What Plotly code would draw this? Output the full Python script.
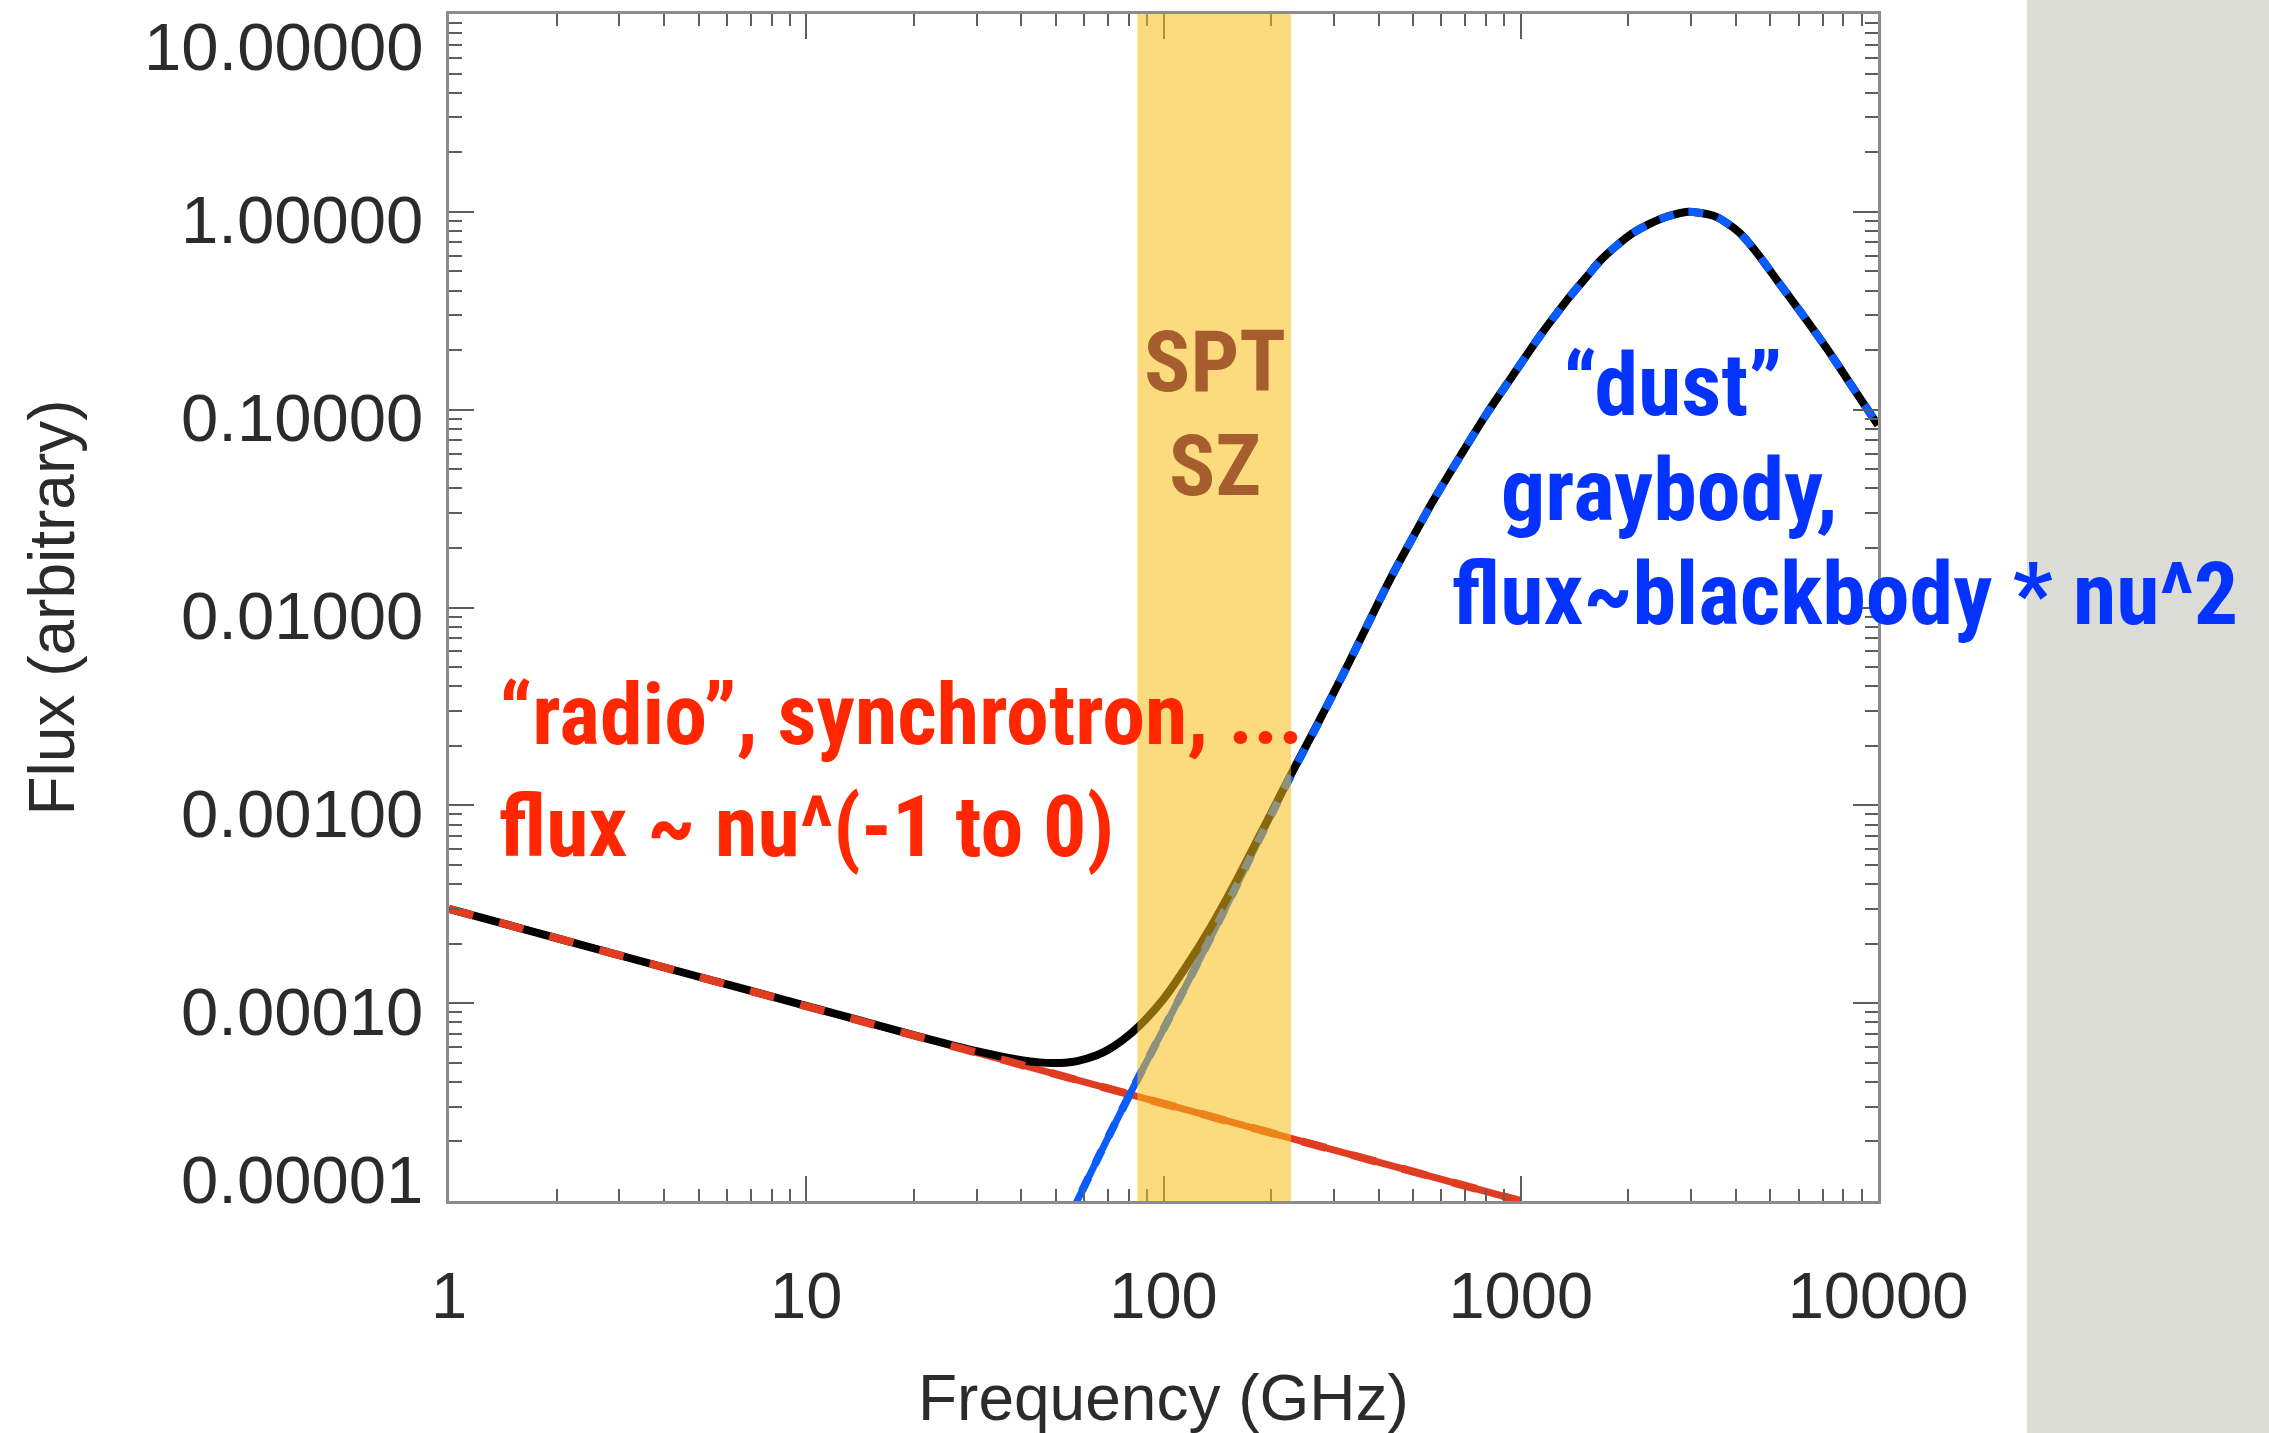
import numpy as np
import plotly.graph_objects as go

# ---- spectral components (frequency in GHz, flux in arbitrary units) ----
sync_freq = [1, 1000]
sync_flux = [3.0e-4, 1.0e-5]

dust_freq = [50, 57.3, 70, 85, 100, 116, 135, 157, 185, 212, 229, 270, 326, 380, 430,
             500, 568, 680, 805, 950, 1132, 1250, 1374, 1520, 1667, 1850, 2062, 2270,
             2500, 2700, 2846, 2950, 3150, 3350, 3541, 3800, 4108, 4584, 5212, 6046,
             7199, 8511, 10000]
dust_flux = [6.0e-6, 1.0e-5, 2.1e-5, 4.2e-5, 7.4e-5, 1.24e-4, 2.12e-4, 3.65e-4, 6.7e-4,
             1.1e-3, 1.45e-3, 2.56e-3, 5.0e-3, 8.8e-3, 1.38e-2, 2.28e-2, 3.45e-2, 5.9e-2,
             0.096, 0.149, 0.236, 0.300, 0.374, 0.464, 0.565, 0.672, 0.782, 0.862,
             0.932, 0.972, 0.993, 1.0, 0.99, 0.97, 0.94, 0.87, 0.78, 0.62, 0.452, 0.315,
             0.203, 0.129, 0.0836]

total_freq = [1, 2, 5, 10, 20, 30, 40, 45, 49, 53, 57.3, 65, 70, 77, 85, 100, 116, 135,
              157, 185, 212, 229, 270, 326, 380, 430, 500, 568, 680, 805, 950, 1132, 1250,
              1374, 1520, 1667, 1850, 2062, 2270, 2500, 2700, 2846, 2950, 3150, 3350, 3541,
              3800, 4108, 4584, 5212, 6046, 7199, 8511, 10000]
total_flux = [3.0e-4, 2.13e-4, 1.36e-4, 9.7e-5, 6.9e-5, 5.72e-5, 5.15e-5, 5.02e-5, 4.98e-5,
              5.0e-5, 5.09e-5, 5.45e-5, 5.81e-5, 6.52e-5, 7.58e-5, 1.05e-4, 1.54e-4, 2.39e-4,
              3.9e-4, 6.93e-4, 1.12e-3, 1.47e-3, 2.58e-3, 5.02e-3, 8.8e-3, 1.38e-2, 2.28e-2,
              3.45e-2, 5.9e-2, 0.096, 0.149, 0.236, 0.300, 0.374, 0.464, 0.565, 0.672,
              0.782, 0.862, 0.932, 0.972, 0.993, 1.0, 0.99, 0.97, 0.94, 0.87, 0.78, 0.62,
              0.452, 0.315, 0.203, 0.129, 0.0836]

# SPT SZ observing band (GHz)
band_lo, band_hi = 84.5, 227.5

# axis ticks
x_tick_vals = [1, 10, 100, 1000, 10000]
x_tick_text = ["1", "10", "100", "1000", "10000"]
y_tick_vals = [1e-5, 1e-4, 1e-3, 1e-2, 1e-1, 1, 10]
y_tick_text = ["0.00001", "0.00010", "0.00100", "0.01000", "0.10000", "1.00000", "10.00000"]

RED_LINE = "#E03C22"
BLUE_LINE = "#0A5CFF"
RED_TEXT = "#FF2600"
BLUE_TEXT = "#0433FF"
BROWN_TEXT = "#A65E2E"
TICK_FONT = "Liberation Sans, Arial, Helvetica, sans-serif"
BOLD_FONT = "Roboto Condensed, Liberation Sans Narrow, Roboto, sans-serif"

fig = go.Figure()

# solid components underneath
fig.add_trace(go.Scatter(x=sync_freq, y=sync_flux, mode="lines",
                         line=dict(color=RED_LINE, width=7), hoverinfo="skip"))
fig.add_trace(go.Scatter(x=dust_freq, y=dust_flux, mode="lines",
                         line=dict(color=BLUE_LINE, width=7, shape="spline", smoothing=0.9),
                         hoverinfo="skip"))
# total spectrum
fig.add_trace(go.Scatter(x=total_freq, y=total_flux, mode="lines",
                         line=dict(color="black", width=8, shape="spline", smoothing=0.9),
                         hoverinfo="skip"))
# dashed component overlays, giving the two-tone look where they coincide with the total
fig.add_trace(go.Scatter(x=sync_freq, y=sync_flux, mode="lines",
                         line=dict(color=RED_LINE, width=8, dash="25px,27px"), hoverinfo="skip"))
fig.add_trace(go.Scatter(x=dust_freq, y=dust_flux, mode="lines",
                         line=dict(color=BLUE_LINE, width=8, dash="15px,15px",
                                   shape="spline", smoothing=0.9),
                         hoverinfo="skip"))

minor_x = [k * 10 ** d for d in range(0, 4) for k in range(2, 10)]
minor_y = [k * 10.0 ** d for d in range(-5, 1) for k in range(2, 10)]

axis_common = dict(showline=True, linecolor="#8c8c8c", linewidth=3, mirror="allticks",
                   ticks="inside", ticklen=25, tickwidth=2, tickcolor="#5e5e5e",
                   showgrid=False, zeroline=False)

fig.update_xaxes(type="log", range=[0, 4], tickmode="array", tickvals=x_tick_vals,
                 ticktext=x_tick_text,
                 tickfont=dict(family=TICK_FONT, size=65, color="#2b2b2b"),
                 ticklabelstandoff=36,
                 minor=dict(ticks="inside", ticklen=12, tickwidth=2, tickcolor="#5e5e5e",
                            tickmode="array", tickvals=minor_x, showgrid=False),
                 **axis_common)
fig.update_yaxes(type="log", range=[-5, 1], tickmode="array", tickvals=y_tick_vals,
                 showticklabels=False,
                 minor=dict(ticks="inside", ticklen=13, tickwidth=2, tickcolor="#5e5e5e",
                            tickmode="array", tickvals=minor_y, showgrid=False),
                 **axis_common)

shapes = [
    # slide background strip at the right
    dict(type="rect", xref="paper", yref="paper", x0=1.1043, x1=1.35, y0=-0.3, y1=1.1,
         fillcolor="#DCDCD6", line=dict(width=0), layer="below"),
    # observing band, translucent over the curves
    dict(type="rect", xref="x", yref="paper", x0=band_lo, x1=band_hi, y0=0, y1=1,
         fillcolor="rgba(250,190,20,0.55)", line=dict(width=0), layer="above"),
]

annotations = []
# y tick labels (end labels pulled inside the axis span)
for v, t in zip(y_tick_vals, y_tick_text):
    shift = -8
    if v == y_tick_vals[-1]:
        shift = -32
    elif v == y_tick_vals[0]:
        shift = 22
    annotations.append(dict(x=0, xref="paper", y=np.log10(v), yref="y", text=t,
                            showarrow=False, xanchor="right", yanchor="middle",
                            xshift=-24, yshift=shift,
                            font=dict(family=TICK_FONT, size=67, color="#2b2b2b")))

# axis titles
annotations.append(dict(x=0.5, xref="paper", y=-0.166, yref="paper", text="Frequency (GHz)",
                        showarrow=False, xanchor="center", yanchor="middle",
                        font=dict(family=TICK_FONT, size=64, color="#2b2b2b")))
annotations.append(dict(x=-0.2785, xref="paper", y=0.5, yref="paper", text="Flux (arbitrary)",
                        showarrow=False, xanchor="center", yanchor="middle", textangle=-90,
                        font=dict(family=TICK_FONT, size=64, color="#2b2b2b")))


def px_x(p):
    return (p - 449) / 1429.0


def px_y(p):
    return (1201 - p) / 1187.0


bold = dict(family=BOLD_FONT, size=86, weight="bold")
bold_blue = dict(family=BOLD_FONT, size=88, weight="bold", color=BLUE_TEXT)

annotations += [
    dict(x=px_x(1215), y=px_y(361), text="SPT", font=dict(bold, color=BROWN_TEXT)),
    dict(x=px_x(1215), y=px_y(465), text="SZ", font=dict(bold, color=BROWN_TEXT)),
    dict(x=px_x(497), y=px_y(770), text="“radio”, synchrotron, ...<br>flux ~ nu^(-1 to 0)",
         xanchor="left", align="left", font=dict(bold, color=RED_TEXT)),
    dict(x=px_x(1672), y=px_y(384), text="“dust”", font=bold_blue),
    dict(x=px_x(1669), y=px_y(489), text="graybody,", font=bold_blue),
    dict(x=px_x(1845), y=px_y(593), text="flux~blackbody * nu^2", font=bold_blue),
]
for a in annotations[-6:]:
    a.setdefault("xanchor", "center")
    a.update(xref="paper", yref="paper", showarrow=False, yanchor="middle")

fig.update_layout(width=2269, height=1433,
                  margin=dict(l=449, r=391, t=14, b=232),
                  paper_bgcolor="white", plot_bgcolor="white",
                  showlegend=False, shapes=shapes, annotations=annotations)

fig.write_html("out.html")
